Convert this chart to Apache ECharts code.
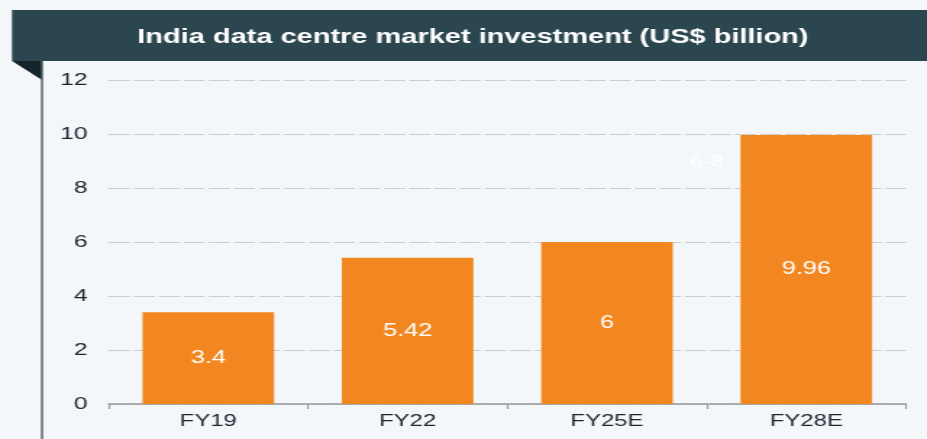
<!DOCTYPE html>
<html>
<head>
<meta charset="utf-8">
<script src="https://cdn.jsdelivr.net/npm/echarts@6/dist/echarts.min.js"></script>
<style>
  html, body { margin: 0; padding: 0; background: #f4f7f9; overflow: hidden; }
  /* the source picture is stretched sideways, so draw narrow and widen it */
  #chart { width: 640px; height: 439px; transform: scaleX(1.4484); transform-origin: 0 0; }
</style>
</head>
<body>
<div id="chart"></div>
<script>
const categories = ['FY19', 'FY22', 'FY25E', 'FY28E'];
const investment = [3.4, 5.42, 6, 9.96];
const yTicks = [0, 12, 2]; // min, max, step
const titleText = 'India data centre market investment (US$ billion)';
const noteText = '6-8';

const FONT = '"Liberation Sans", Arial, sans-serif';

const chart = echarts.init(document.getElementById('chart'));
const option = {
  backgroundColor: '#f4f7f9',
  animation: false,
  grid: {
    left: 75,
    right: 14.5,
    top: 80,
    bottom: 35
  },
  graphic: [
    // title banner
    {
      type: 'rect',
      shape: { x: 8.3, y: 10, width: 640, height: 51 },
      style: { fill: '#2b464e' }
    },
    {
      type: 'polygon',
      shape: { points: [[8.3, 61], [29, 61], [29, 80]] },
      style: { fill: '#14242a' }
    },
    {
      type: 'line',
      shape: { x1: 29, y1: 61, x2: 29, y2: 439 },
      style: { stroke: '#4a5a60', lineWidth: 1.4 }
    },
    {
      type: 'text',
      x: 326.5,
      y: 37,
      style: {
        text: titleText,
        fill: '#ffffff',
        font: 'bold 20px ' + FONT,
        textAlign: 'center',
        textVerticalAlign: 'middle'
      }
    },
    // faint leftover note
    {
      type: 'text',
      x: 488,
      y: 163,
      style: {
        text: noteText,
        fill: 'rgba(255,255,255,0.9)',
        font: '16px ' + FONT,
        textAlign: 'center',
        textVerticalAlign: 'middle'
      }
    }
  ],
  xAxis: {
    type: 'category',
    data: categories,
    axisLine: { lineStyle: { color: '#999999', width: 1.5 } },
    axisTick: { show: true, length: 5, lineStyle: { color: '#999999', width: 1.1 } },
    axisLabel: {
      color: '#1b2430',
      fontSize: 16.5,
      fontFamily: FONT,
      margin: 9
    }
  },
  yAxis: {
    type: 'value',
    min: yTicks[0],
    max: yTicks[1],
    interval: yTicks[2],
    axisLine: { show: false },
    axisTick: { show: false },
    axisLabel: {
      color: '#1b2430',
      fontSize: 17,
      fontFamily: FONT,
      margin: 14.5
    },
    splitLine: {
      lineStyle: { color: '#cccccc', type: [14.5, 2.8], width: 1 }
    }
  },
  series: [
    {
      type: 'bar',
      data: investment,
      barWidth: '66%',
      itemStyle: { color: '#f28721' },
      label: {
        show: true,
        position: 'inside',
        color: '#ffffff',
        fontSize: 17.5,
        fontFamily: FONT
      }
    }
  ]
};
chart.setOption(option);

window.addEventListener('resize', () => chart.resize());
</script>
</body>
</html>
